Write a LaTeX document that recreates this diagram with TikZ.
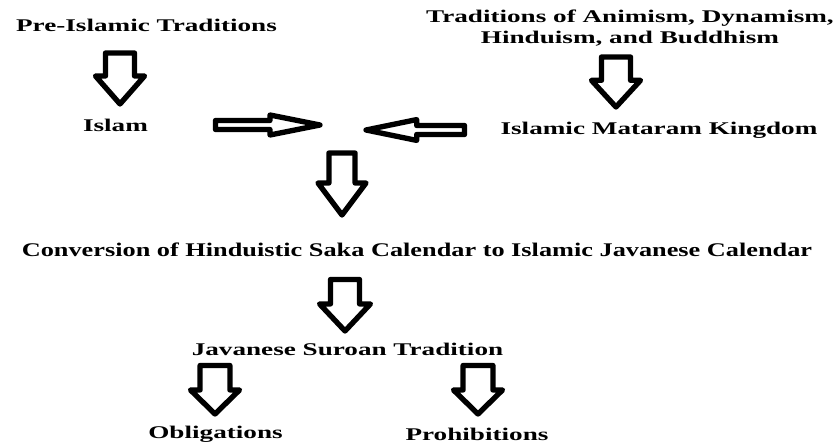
\documentclass[tikz,border=0pt]{standalone}
\usepackage{fontspec}
\setmainfont{Liberation Serif}
\usetikzlibrary{calc}

\tikzset{
  lbl/.style={font=\fontsize{13.4}{15.4}\selectfont\bfseries, inner sep=0pt, anchor=base, xscale=#1},
  lbl/.default=1.52,
  blockline/.style={draw=black, line width=4pt, line join=round, fill=white}
}

% hollow block arrow: start, tip, shaft half-width, head half-width, head length
\newcommand{\blockarrow}[5]{%
  \coordinate (ba-base) at ($(#2)!#5!(#1)$);
  \draw[blockline] ($(#1)!#3!90:(#2)$) -- ($(ba-base)!#3!90:(#2)$)
    -- ($(ba-base)!#4!90:(#2)$) -- (#2) -- ($(ba-base)!#4!-90:(#2)$)
    -- ($(ba-base)!#3!-90:(#2)$) -- ($(#1)!#3!-90:(#2)$) -- cycle;
}

\begin{document}
\begin{tikzpicture}[x=0.75pt, y=-0.75pt]
  \useasboundingbox (0,0) rectangle (839,442);

  \node[lbl] (pre) at (146.5,32) {Pre-Islamic Traditions};
  \node[lbl, align=center, anchor=north] (trad) at (630,10) {Traditions of Animism, Dynamism,\\ Hinduism, and Buddhism};
  \node[lbl] (islam) at (115.5,132) {Islam};
  \node[lbl] (mataram) at (659,135) {Islamic Mataram Kingdom};
  \node[lbl=1.36, font=\fontsize{14.5}{16}\selectfont\bfseries] (conv) at (417,257) {Conversion of Hinduistic Saka Calendar to Islamic Javanese Calendar};
  \node[lbl] (suroan) at (347.5,355) {Javanese Suroan Tradition};
  \node[lbl] (oblig) at (215.5,438) {Obligations};
  \node[lbl] (prohib) at (477,440) {Prohibitions};

  % arrow ends
  \coordinate (pre-out) at (120,53);
  \coordinate (islam-in) at (120,104);
  \coordinate (trad-out) at (616,57);
  \coordinate (mataram-in) at (616,107);
  \coordinate (islam-out) at (215.5,125);
  \coordinate (merge-w) at (320,125);
  \coordinate (mataram-out) at (464.5,130);
  \coordinate (merge-e) at (366,130);
  \coordinate (merge) at (342,153);
  \coordinate (conv-in) at (342,215);
  \coordinate (conv-out) at (345,279.5);
  \coordinate (suroan-in) at (345,331);
  \coordinate (oblig-out) at (215,365.5);
  \coordinate (oblig-in) at (215,414);
  \coordinate (prohib-out) at (478,365.5);
  \coordinate (prohib-in) at (478,414);

  \blockarrow{pre-out}{islam-in}{10.9pt}{18.4pt}{21pt}
  \blockarrow{trad-out}{mataram-in}{10.9pt}{18.4pt}{20pt}
  \blockarrow{islam-out}{merge-w}{3.4pt}{7.5pt}{37.5pt}
  \blockarrow{mataram-out}{merge-e}{3.4pt}{7.8pt}{38pt}
  \blockarrow{merge}{conv-in}{9.8pt}{18pt}{24pt}
  \blockarrow{conv-out}{suroan-in}{10.9pt}{19.1pt}{20.3pt}
  \blockarrow{oblig-out}{oblig-in}{11.2pt}{18.4pt}{18pt}
  \blockarrow{prohib-out}{prohib-in}{11.2pt}{18.4pt}{18pt}
\end{tikzpicture}
\end{document}
